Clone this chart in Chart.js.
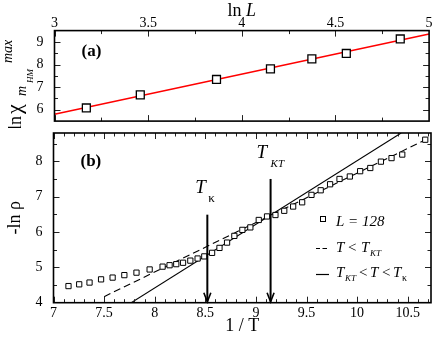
<!DOCTYPE html>
<html>
<head>
<meta charset="utf-8">
<script src="https://cdn.jsdelivr.net/npm/chart.js@4.4.0/dist/chart.umd.min.js"></script>
<style>
html,body{margin:0;padding:0;background:#fff;}
#wrap{position:relative;width:436px;height:337px;}
#ca{position:absolute;left:0;top:0;}
#cb{position:absolute;left:0;top:128px;}
</style>
</head>
<body>
<div id="wrap">
<canvas id="ca" width="436" height="128"></canvas>
<canvas id="cb" width="436" height="209"></canvas>
</div>
<script>
// ---------- Panel (a) data ----------
const lnL = [3.17, 3.458, 3.865, 4.153, 4.374, 4.558, 4.846];
const lnChi = [6.08, 6.66, 7.34, 7.81, 8.25, 8.49, 9.13];
const fitAx = [3, 5];
const fitAy = [5.80, 9.35];
const xTicksA = [3, 3.5, 4, 4.5, 5];
const yTicksA = [6, 7, 8, 9];

// ---------- Panel (b) data ----------
const invT = [7.148, 7.254, 7.356, 7.47, 7.584, 7.70, 7.82, 7.95, 8.078, 8.147, 8.213, 8.28, 8.352, 8.424, 8.49, 8.567, 8.64, 8.715, 8.787, 8.866, 8.945, 9.028, 9.11, 9.193, 9.28, 9.368, 9.457, 9.549, 9.64, 9.733, 9.826, 9.928, 10.03, 10.13, 10.235, 10.34, 10.446, 10.673];
const lnRho = [4.47, 4.52, 4.57, 4.66, 4.71, 4.78, 4.85, 4.94, 5.02, 5.06, 5.09, 5.13, 5.19, 5.25, 5.31, 5.41, 5.55, 5.70, 5.89, 6.06, 6.13, 6.34, 6.44, 6.48, 6.60, 6.72, 6.84, 7.05, 7.18, 7.35, 7.50, 7.57, 7.72, 7.81, 7.99, 8.09, 8.19, 8.61];
const dashX = [7.5, 10.676];
const dashY = [4.17, 8.61];
const solidX = [7.768, 10.435];
const solidY = [4.0, 8.8];
const xTicksB = [7, 7.5, 8, 8.5, 9, 9.5, 10, 10.5];
const yTicksB = [4, 5, 6, 7, 8];
const arrowX = [8.52, 9.145];
const arrowTop = [6.49, 7.5];
const arrowBottom = [4.0, 4.0];

const SERIF = '"Liberation Serif", "DejaVu Serif", serif';
Chart.defaults.font.family = SERIF;
Chart.defaults.color = '#000';

function pts(xs, ys){ return xs.map((x,i)=>({x:x, y:ys[i]})); }
function noPad(s){ s.paddingTop = 0; s.paddingBottom = 0; s.paddingLeft = 0; s.paddingRight = 0; }

function frameTicks(chart, xMaj, xMin, yMaj, yMin){
  const ctx = chart.ctx, a = chart.chartArea;
  const xs = chart.scales.x, ys = chart.scales.y;
  ctx.save();
  ctx.strokeStyle = '#222';
  ctx.lineWidth = 1;
  const drawX = (v, len) => {
    const p = Math.round(xs.getPixelForValue(v)) + 0.5;
    if (p < a.left+1 || p > a.right-1) return;
    ctx.beginPath();
    ctx.moveTo(p, a.bottom); ctx.lineTo(p, a.bottom - len);
    ctx.moveTo(p, a.top); ctx.lineTo(p, a.top + len);
    ctx.stroke();
  };
  const drawY = (v, len) => {
    const p = Math.round(ys.getPixelForValue(v)) + 0.5;
    if (p < a.top+1 || p > a.bottom-1) return;
    ctx.beginPath();
    ctx.moveTo(a.left, p); ctx.lineTo(a.left + len, p);
    ctx.moveTo(a.right, p); ctx.lineTo(a.right - len, p);
    ctx.stroke();
  };
  for (let v = xs.min; v <= xs.max + 1e-9; v = +(v + xMin).toFixed(6)) drawX(v, 3.5);
  for (let v = xs.min; v <= xs.max + 1e-9; v = +(v + xMaj).toFixed(6)) drawX(v, 6);
  for (let v = Math.ceil(ys.min / yMin) * yMin; v <= ys.max + 1e-9; v = +(v + yMin).toFixed(6)) drawY(v, 3.5);
  for (let v = Math.ceil(ys.min); v <= ys.max + 1e-9; v = +(v + yMaj).toFixed(6)) drawY(v, 6);
  ctx.lineWidth = 1.6;
  ctx.strokeStyle = '#000';
  ctx.strokeRect(a.left, a.top, a.right - a.left, a.bottom - a.top);
  ctx.restore();
}

// ---------- Chart (a) ----------
const pluginA = {
  id: 'panelA',
  afterDraw(chart){
    frameTicks(chart, 0.5, 0.25, 1, 0.5);
    const ctx = chart.ctx, a = chart.chartArea;
    ctx.save();
    ctx.fillStyle = '#000';
    ctx.textBaseline = 'alphabetic';
    // top axis title "ln L"
    const cx = (a.left + a.right) / 2;
    ctx.font = '18px ' + SERIF;
    const w1 = ctx.measureText('ln ').width;
    ctx.font = 'italic 18px ' + SERIF;
    const w2 = ctx.measureText('L').width;
    const sx = cx - (w1 + w2) / 2;
    ctx.font = '18px ' + SERIF;
    ctx.fillText('ln ', sx, 16);
    ctx.font = 'italic 18px ' + SERIF;
    ctx.fillText('L', sx + w1, 16);
    // panel label
    ctx.font = 'bold 17px ' + SERIF;
    ctx.fillText('(a)', a.left + 27, a.top + 25);
    // rotated y label: ln chi_{m_HM}^{max}
    ctx.translate(21, 130);
    ctx.rotate(-Math.PI/2);
    ctx.font = '18px ' + SERIF;
    ctx.fillText('ln', 0, 0);
    ctx.font = '22px ' + SERIF;
    ctx.fillText('\u03C7', 16, 0);
    ctx.font = 'italic 14px ' + SERIF;
    ctx.fillText('m', 34, 5);
    ctx.font = 'italic 9px ' + SERIF;
    ctx.fillText('HM', 47, 12);
    ctx.font = 'italic 14px ' + SERIF;
    ctx.fillText('max', 67, -9);
    ctx.restore();
  }
};

new Chart(document.getElementById('ca'), {
  type: 'scatter',
  data: {
    datasets: [
      { data: pts(fitAx, fitAy), showLine: true, borderColor: '#ff0000', borderWidth: 1.5, pointRadius: 0, fill: false, order: 2 },
      { data: pts(lnL, lnChi), pointStyle: 'rect', pointRadius: 5.6, borderColor: '#000', backgroundColor: '#fff', pointBorderWidth: 1.3, borderWidth: 1.3, order: 1 }
    ]
  },
  options: {
    responsive: false, animation: false, devicePixelRatio: 1,
    layout: { padding: { top: 0, right: 4.5, bottom: 3.6, left: 0 } },
    plugins: { legend: { display: false }, tooltip: { enabled: false } },
    scales: {
      x: {
        type: 'linear', position: 'top', min: 3, max: 5,
        afterBuildTicks: s => { s.ticks = xTicksA.map(v => ({ value: v })); },
        afterFit: s => { s.height = 30.6; noPad(s); },
        ticks: { font: { size: 14 }, color: '#000', padding: -1, callback: v => String(v), maxRotation: 0 },
        grid: { display: false, drawTicks: false },
        border: { display: false }
      },
      y: {
        type: 'linear', min: 5.5, max: 9.5,
        afterBuildTicks: s => { s.ticks = yTicksA.map(v => ({ value: v })); },
        afterFit: s => { s.width = 54.5; noPad(s); },
        ticks: { font: { size: 14 }, color: '#000', padding: 11, callback: v => String(v) },
        grid: { display: false, drawTicks: false },
        border: { display: false }
      }
    }
  },
  plugins: [pluginA]
});

// ---------- Chart (b) ----------
const pluginB = {
  id: 'panelB',
  afterDraw(chart){
    frameTicks(chart, 0.5, 0.1, 1, 0.5);
    const ctx = chart.ctx, a = chart.chartArea;
    const xs = chart.scales.x, ys = chart.scales.y;
    ctx.save();
    ctx.fillStyle = '#000';
    ctx.strokeStyle = '#000';
    // arrows
    arrowX.forEach((xv, i) => {
      const px = xs.getPixelForValue(xv);
      const y0 = ys.getPixelForValue(arrowTop[i]);
      const y1 = ys.getPixelForValue(arrowBottom[i]) - 1;
      ctx.lineWidth = 2;
      ctx.beginPath(); ctx.moveTo(px, y0); ctx.lineTo(px, y1); ctx.stroke();
      ctx.lineWidth = 1.6;
      ctx.beginPath(); ctx.moveTo(px - 3.5, y1 - 9); ctx.lineTo(px, y1); ctx.lineTo(px + 3.5, y1 - 9); ctx.stroke();
    });
    // panel label
    ctx.font = 'bold 17px ' + SERIF;
    ctx.fillText('(b)', a.left + 27, 166 - 128);
    // T_kappa label
    const kx = xs.getPixelForValue(arrowX[0]);
    ctx.font = 'italic 19px ' + SERIF;
    ctx.fillText('T', kx - 12, 193 - 128);
    ctx.font = '13px ' + SERIF;
    ctx.fillText('\u03BA', kx + 1, 202 - 128);
    // T_KT label
    const tx = xs.getPixelForValue(arrowX[1]);
    ctx.font = 'italic 19px ' + SERIF;
    ctx.fillText('T', tx - 14, 158 - 128);
    ctx.font = 'italic 11px ' + SERIF;
    ctx.fillText('KT', tx, 167 - 128);
    // legend
    const lx = 336;
    ctx.lineWidth = 1;
    ctx.fillStyle = '#fff';
    ctx.fillRect(320.5, 216.5 - 128, 5, 5);
    ctx.strokeRect(320.5, 216.5 - 128, 5, 5);
    ctx.fillStyle = '#000';
    ctx.font = 'italic 15px ' + SERIF;
    ctx.fillText('L = 128', lx, 226 - 128);
    ctx.lineWidth = 1.2;
    ctx.beginPath();
    ctx.moveTo(316, 248.5 - 128); ctx.lineTo(320, 248.5 - 128);
    ctx.moveTo(322.5, 248.5 - 128); ctx.lineTo(327, 248.5 - 128);
    ctx.stroke();
    ctx.font = 'italic 15px ' + SERIF;
    ctx.fillText('T', lx, 252 - 128);
    ctx.font = '15px ' + SERIF;
    ctx.fillText('<', lx + 12, 252 - 128);
    ctx.font = 'italic 15px ' + SERIF;
    ctx.fillText('T', lx + 25, 252 - 128);
    ctx.font = 'italic 9px ' + SERIF;
    ctx.fillText('KT', lx + 34, 256 - 128);
    ctx.beginPath();
    ctx.moveTo(316, 274.5 - 128); ctx.lineTo(329, 274.5 - 128);
    ctx.stroke();
    ctx.font = 'italic 15px ' + SERIF;
    ctx.fillText('T', lx, 277 - 128);
    ctx.font = 'italic 9px ' + SERIF;
    ctx.fillText('KT', lx + 9, 281 - 128);
    ctx.font = '15px ' + SERIF;
    ctx.fillText('<', lx + 23, 277 - 128);
    ctx.font = 'italic 15px ' + SERIF;
    ctx.fillText('T', lx + 34, 277 - 128);
    ctx.font = '15px ' + SERIF;
    ctx.fillText('<', lx + 46, 277 - 128);
    ctx.font = 'italic 15px ' + SERIF;
    ctx.fillText('T', lx + 57, 277 - 128);
    ctx.font = '10px ' + SERIF;
    ctx.fillText('\u03BA', lx + 66, 281 - 128);
    ctx.restore();
  }
};

new Chart(document.getElementById('cb'), {
  type: 'scatter',
  data: {
    datasets: [
      { data: pts(solidX, solidY), showLine: true, borderColor: '#000', borderWidth: 1.1, pointRadius: 0, order: 3 },
      { data: pts(dashX, dashY), showLine: true, borderColor: '#000', borderWidth: 1.1, borderDash: [7, 4], pointRadius: 0, order: 2 },
      { data: pts(invT, lnRho), pointStyle: 'rect', pointRadius: 3.7, borderColor: '#000', backgroundColor: '#fff', pointBorderWidth: 1, borderWidth: 1, order: 1 }
    ]
  },
  options: {
    responsive: false, animation: false, devicePixelRatio: 1,
    layout: { padding: { top: 3.7, right: 5, bottom: 0, left: 0 } },
    plugins: { legend: { display: false }, tooltip: { enabled: false } },
    scales: {
      x: {
        type: 'linear', position: 'bottom', min: 7, max: 10.73,
        afterBuildTicks: s => { s.ticks = xTicksB.map(v => ({ value: v })); },
        afterFit: s => { s.height = 34.3; noPad(s); },
        ticks: { font: { size: 14 }, color: '#000', padding: 2, callback: v => String(v), maxRotation: 0, autoSkip: false },
        grid: { display: false, drawTicks: false },
        border: { display: false },
        title: { display: true, text: '1 / T', font: { size: 18 }, color: '#000', padding: { top: 0, bottom: 0 } }
      },
      y: {
        type: 'linear', min: 4, max: 8.8,
        afterBuildTicks: s => { s.ticks = yTicksB.map(v => ({ value: v })); },
        afterFit: s => { s.width = 53.5; noPad(s); },
        ticks: { font: { size: 14 }, color: '#000', padding: 11, callback: v => String(v) },
        grid: { display: false, drawTicks: false },
        border: { display: false },
        title: { display: true, text: '-ln \u03C1', font: { size: 18 }, color: '#000', padding: { top: 4, bottom: 0 } }
      }
    }
  },
  plugins: [pluginB]
});
</script>
</body>
</html>
